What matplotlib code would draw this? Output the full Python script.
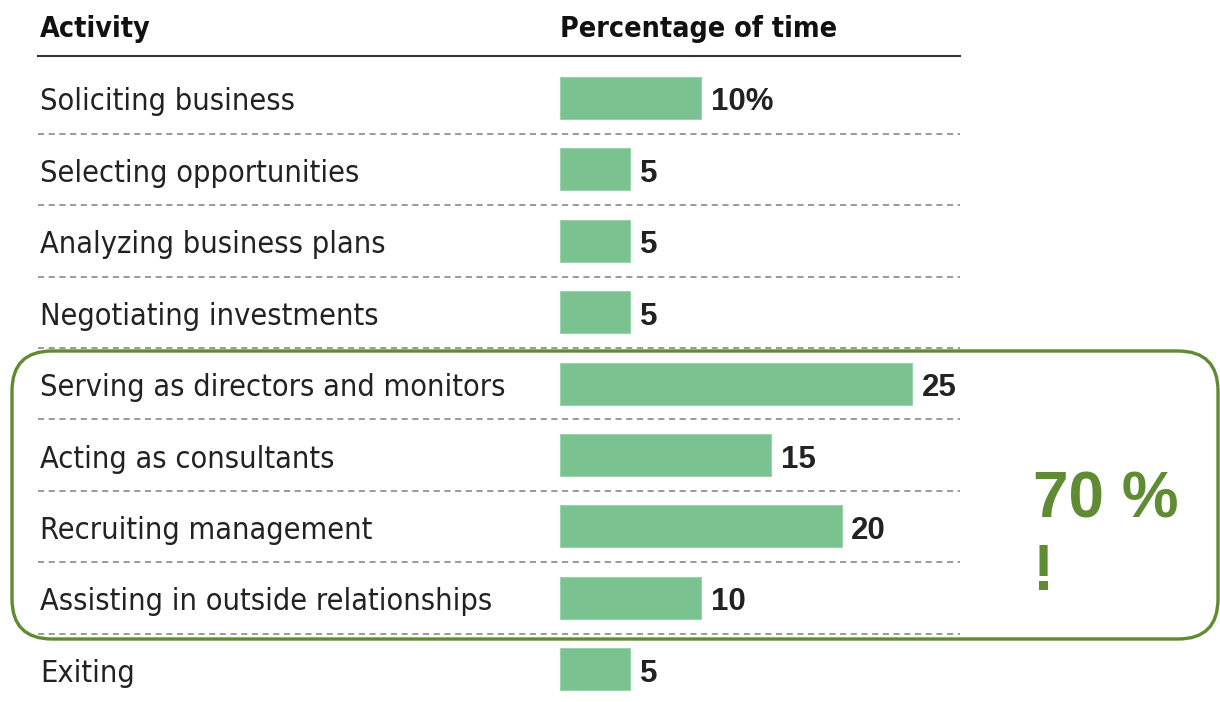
import matplotlib
matplotlib.use("Agg")
import matplotlib.pyplot as plt
from matplotlib import font_manager as fm
from matplotlib.patches import FancyBboxPatch

activities = [
    "Soliciting business",
    "Selecting opportunities",
    "Analyzing business plans",
    "Negotiating investments",
    "Serving as directors and monitors",
    "Acting as consultants",
    "Recruiting management",
    "Assisting in outside relationships",
    "Exiting",
]
percent = [10, 5, 5, 5, 25, 15, 20, 10, 5]
value_labels = ["10%", "5", "5", "5", "25", "15", "20", "10", "5"]
header_left = "Activity"
header_right = "Percentage of time"
callout_main = "70 %"
callout_mark = "!"

W, H = 1220, 702
fig = plt.figure(figsize=(W / 100, H / 100), dpi=100)
fig.patch.set_facecolor("white")

cond_ok = False
try:
    p = fm.findfont(fm.FontProperties(family="DejaVu Sans", stretch="condensed"),
                    fallback_to_default=False)
    cond_ok = "ondensed" in p
except Exception:
    cond_ok = False
if cond_ok:
    lab_kw = dict(family=["DejaVu Sans"], stretch="condensed")
    lab_size = 22
    head_size = 20.5
else:
    lab_kw = dict(family=["Roboto", "DejaVu Sans"])
    lab_size = 22.5
    head_size = 22.5
val_kw = dict(family=["Liberation Sans", "DejaVu Sans"])

ppu = 14.08
row = 71.4
x0, y0 = 560, 98
ax = fig.add_axes([0, 0, 1, 1])
ax.set_xlim(-x0 / ppu, (W - x0) / ppu)
ax.set_ylim((H - y0) / row, -y0 / row)
ax.axis("off")

ypos = list(range(len(activities)))
ax.barh(ypos, percent, height=0.59, left=0, color="#7ac391",
        edgecolor="#9ad3ab", linewidth=0.8, zorder=2)

lab_x = (40 - x0) / ppu
line_left = (38 - x0) / ppu
line_right = (960 - x0) / ppu
base_off = 12.5 / row
for i, (name, v, vl) in enumerate(zip(activities, percent, value_labels)):
    ax.text(lab_x, i + base_off, name, ha="left", va="baseline",
            fontsize=lab_size, color="#222222", **lab_kw)
    ax.annotate(vl, (v, i + base_off), xytext=(7, 0), textcoords="offset points",
                ha="left", va="baseline", fontsize=22.5, fontweight="bold",
                color="#222222", **val_kw)
    if i < len(activities) - 1:
        ax.plot([line_left, line_right], [i + 0.5, i + 0.5], color="#7f7f7f",
                lw=1.1, ls=(0, (4, 3)), zorder=1)

hy = (56 - y0) / row
ax.plot([line_left, line_right], [hy, hy], color="#333333", lw=1.5)
ty = (37 - y0) / row
ax.text(lab_x, ty, header_left, ha="left", va="baseline", fontsize=head_size,
        fontweight="bold", color="#111111", **lab_kw)
ax.text(0, ty, header_right, ha="left", va="baseline", fontsize=head_size,
        fontweight="bold", color="#111111", **lab_kw)

ov = fig.add_axes([0, 0, 1, 1])
ov.set_xlim(0, W)
ov.set_ylim(H, 0)
ov.axis("off")
ov.patch.set_alpha(0)
green = "#5f8b33"
box = FancyBboxPatch((12, 351), 1206, 288,
                     boxstyle="round,pad=0,rounding_size=40",
                     fill=False, edgecolor=green, linewidth=2.4)
ov.add_patch(box)
ov.text(1033, 517, callout_main, ha="left", va="baseline", fontsize=46,
        fontweight="bold", color=green, **val_kw)
ov.text(1033, 590, callout_mark, ha="left", va="baseline", fontsize=46,
        fontweight="bold", color=green, **val_kw)

fig.savefig("out.png", dpi=100, facecolor="white")
